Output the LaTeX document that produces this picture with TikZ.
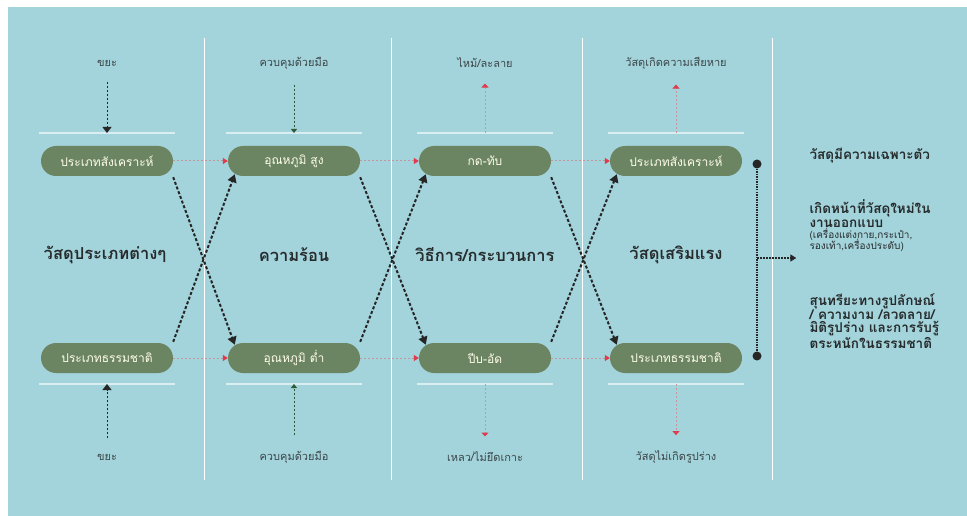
\documentclass[tikz,border=0pt]{standalone}
\usepackage{fontspec}
\usetikzlibrary{arrows.meta}
\setmainfont[Script=Thai]{Loma}

\definecolor{bgblue}{HTML}{A3D3DB}
\definecolor{nodegreen}{HTML}{6B8461}
\definecolor{tipred}{HTML}{E03A4C}
\definecolor{linered}{HTML}{C4959A}
\definecolor{handgreen}{HTML}{2E5A3A}
\definecolor{labelgray}{HTML}{3C4749}
\definecolor{titlegray}{HTML}{262B2C}

\begin{document}
\begin{tikzpicture}[x=1pt,y=-1pt,
    matbox/.style={fill=nodegreen, rounded corners=15pt, minimum width=132pt,
        minimum height=30pt, inner sep=0pt, text=white!92!yellow,
        font=\fontsize{12}{14}\selectfont},
    sidelabel/.style={text=labelgray, font=\fontsize{11}{12}\selectfont},
    coltitle/.style={text=titlegray, font=\bfseries\fontsize{16.5}{20}\selectfont},
    sumtext/.style={text=titlegray, anchor=north west, align=left,
        font=\bfseries\fontsize{13.5}{13.7}\selectfont},
    sepline/.style={white, line width=1pt},
    shelf/.style={white!60!bgblue, line width=1.2pt},
    crossarrow/.style={black!85, line width=2pt, dash pattern=on 3pt off 2pt,
        -{Triangle[length=8pt,width=9pt]}},
    nextarrow/.style={linered, line width=1pt, dash pattern=on 2pt off 2pt,
        -{Triangle[length=5pt,width=6pt,color=tipred]}},
    inarrow/.style={line width=1pt, dash pattern=on 2pt off 2pt},
    outarrow/.style={linered, line width=1pt, dash pattern=on 2pt off 2pt,
        -{Triangle[length=4pt,width=7pt,color=tipred]}}
  ]
    % Background
    \fill[white] (0,0) rectangle (967,516);
    \fill[bgblue] (8,7) rectangle (967,516);

    % Column separators
    \foreach \x in {204,391,582,772}
        \draw[sepline] (\x,38) -- (\x,480);

    % Positions of the shelves above and below the material boxes
    \coordinate (shelfT1) at (107,133);
    \coordinate (shelfT2) at (294,133);
    \coordinate (shelfT3) at (485,133);
    \coordinate (shelfT4) at (676,133);
    \coordinate (shelfB1) at (107,384);
    \coordinate (shelfB2) at (294,384);
    \coordinate (shelfB3) at (485,384);
    \coordinate (shelfB4) at (676,384);
    \foreach \c in {T1,T2,T3,T4,B1,B2,B3,B4}
        \draw[shelf] ([xshift=-68pt]shelf\c) -- ([xshift=68pt]shelf\c);

    % Material boxes
    \node[matbox] (syn1) at (107,161) {ประเภทสังเคราะห์};
    \node[matbox] (nat1) at (107,358) {ประเภทธรรมชาติ};
    \node[matbox] (hot) at (294,161) {อุณหภูมิ สูง};
    \node[matbox] (cold) at (294,358) {อุณหภูมิ ต่ำ};
    \node[matbox] (press) at (485,161) {กด-ทับ};
    \node[matbox] (squeeze) at (485,358) {ปีบ-อัด};
    \node[matbox] (syn2) at (676,161) {ประเภทสังเคราะห์};
    \node[matbox] (nat2) at (676,358) {ประเภทธรรมชาติ};

    % Column titles
    \node[coltitle] (matTitle) at (105,255) {วัสดุประเภทต่างๆ};
    \node[coltitle] (heatTitle) at (294,255) {ความร้อน};
    \node[coltitle] (procTitle) at (485,255) {วิธีการ/กระบวนการ};
    \node[coltitle] (reinTitle) at (676,255) {วัสดุเสริมแรง};

    % Inputs and results above and below
    \node[sidelabel] (wasteT) at (107,63) {ขยะ};
    \node[sidelabel] (handT) at (294,63) {ควบคุมด้วยมือ};
    \node[sidelabel] (burn) at (485,63) {ไหม้/ละลาย};
    \node[sidelabel] (damage) at (676,63) {วัสดุเกิดความเสียหาย};
    \node[sidelabel] (wasteB) at (107,457) {ขยะ};
    \node[sidelabel] (handB) at (294,457) {ควบคุมด้วยมือ};
    \node[sidelabel] (melt) at (485,457) {เหลว/ไม่ยึดเกาะ};
    \node[sidelabel] (noform) at (676,457) {วัสดุไม่เกิดรูปร่าง};

    \draw[inarrow, black!85, shorten <=12pt, -{Triangle[length=6pt,width=9pt]}] (wasteT.south) -- (shelfT1);
    \draw[inarrow, handgreen, shorten <=12pt, -{Triangle[length=4pt,width=6pt]}] (handT.south) -- (shelfT2);
    \draw[outarrow, shorten >=12pt] (shelfT3) -- (burn.south);
    \draw[outarrow, shorten >=12pt] (shelfT4) -- (damage.south);
    \draw[inarrow, black!85, shorten <=12pt, -{Triangle[length=6pt,width=9pt]}] (wasteB.north) -- (shelfB1);
    \draw[inarrow, handgreen, shorten <=12pt, -{Triangle[length=4pt,width=6pt]}] (handB.north) -- (shelfB2);
    \draw[outarrow, shorten >=12pt] (shelfB3) -- (melt.north);
    \draw[outarrow, shorten >=12pt] (shelfB4) -- (noform.north);

    % Straight steps
    \draw[nextarrow] (syn1.east) -- (hot.west);
    \draw[nextarrow] (hot.east) -- (press.west);
    \draw[nextarrow] (press.east) -- (syn2.west);
    \draw[nextarrow] (nat1.east) -- (cold.west);
    \draw[nextarrow] (cold.east) -- (squeeze.west);
    \draw[nextarrow] (squeeze.east) -- (nat2.west);

    % Crossing steps
    \draw[crossarrow] ([yshift=-1pt]syn1.south east) -- ([xshift=7pt,yshift=-2pt]cold.north west);
    \draw[crossarrow] ([yshift=1pt]nat1.north east) -- ([xshift=7pt,yshift=2pt]hot.south west);
    \draw[crossarrow] ([yshift=-1pt]hot.south east) -- ([xshift=7pt,yshift=-2pt]squeeze.north west);
    \draw[crossarrow] ([yshift=1pt]cold.north east) -- ([xshift=7pt,yshift=2pt]press.south west);
    \draw[crossarrow] ([yshift=-1pt]press.south east) -- ([xshift=7pt,yshift=-2pt]nat2.north west);
    \draw[crossarrow] ([yshift=1pt]squeeze.north east) -- ([xshift=7pt,yshift=2pt]syn2.south west);

    % Outcome bracket
    \coordinate (dotTop) at (757,164);
    \coordinate (dotBot) at (757,356);
    \coordinate (bracketMid) at (757,258);
    \draw[black!85, line width=1.5pt, dash pattern=on 1.5pt off 1pt] (dotTop) -- (dotBot);
    \fill[black!85] (dotTop) circle (4.5pt);
    \fill[black!85] (dotBot) circle (4.5pt);
    \node[inner sep=0pt] (outcome) at (797,258) {};
    \draw[black!85, line width=1.5pt, dash pattern=on 1.5pt off 1.5pt,
        -{Triangle[length=6pt,width=7pt]}] (bracketMid) -- (outcome);

    % Outcomes
    \node[sumtext] (unique) at (806,145) {วัสดุมีความเฉพาะตัว};
    \node[sumtext] (newuse) at (806,196) {เกิดหน้าที่วัสดุใหม่ใน\\งานออกแบบ\\[-2pt]
        {\mdseries\fontsize{10}{10.5}\selectfont (เครื่องแต่งกาย,กระเป๋า,}\\[-3pt]
        {\mdseries\fontsize{10}{10.5}\selectfont รองเท้า,เครื่องประดับ)}};
    \node[sumtext] (aesthetic) at (806,290) {สุนทรียะทางรูปลักษณ์\\/ ความงาม /ลวดลาย/\\
        มิติรูปร่าง และการรับรู้\\ตระหนักในธรรมชาติ};
\end{tikzpicture}
\end{document}
